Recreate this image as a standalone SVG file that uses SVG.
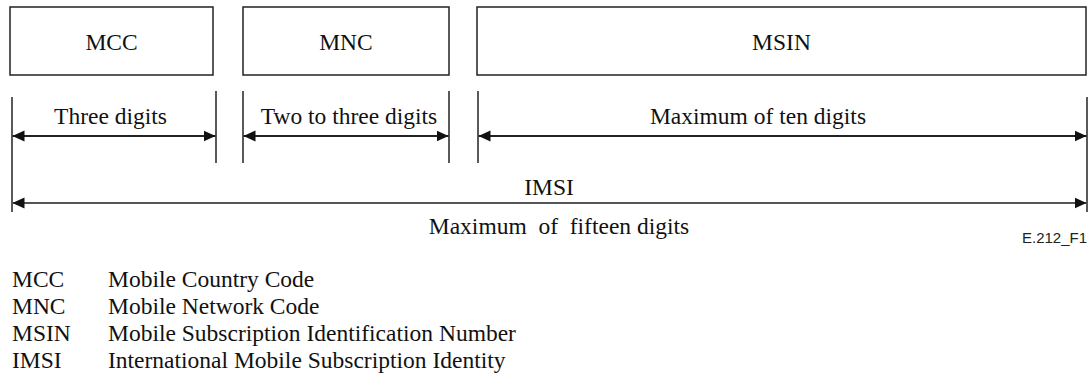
<svg xmlns="http://www.w3.org/2000/svg" width="1092" height="374" viewBox="0 0 1092 374">
<style>
.box{fill:#fff;stroke:#222;stroke-width:1.5}
.t{font-family:"Liberation Serif","Times New Roman",serif;font-size:23.5px;fill:#111}
.c{text-anchor:middle}
.v{stroke:#222;stroke-width:1.5}
.a{stroke:#222;stroke-width:1.8;fill:none;marker-start:url(#ah);marker-end:url(#ah)}
.a2{stroke:#555;stroke-width:2;fill:none;marker-start:url(#ah);marker-end:url(#ah)}
.f{font-family:"Liberation Sans",Arial,sans-serif;font-size:15px;fill:#222;text-anchor:end}
</style>
<defs>
<marker id="ah" viewBox="0 0 12 12" refX="12" refY="6" markerWidth="12" markerHeight="12" markerUnits="userSpaceOnUse" orient="auto-start-reverse">
<path d="M0,0.5 L12,6 L0,11.5 Z" fill="#111"/>
</marker>
</defs>
<g id="mcc"><rect class="box" x="10" y="7" width="203" height="68"/><text class="t c" x="111.5" y="50">MCC</text></g>
<g id="mnc"><rect class="box" x="243" y="7" width="206" height="68"/><text class="t c" x="346" y="50">MNC</text></g>
<g id="msin"><rect class="box" x="477" y="7" width="609" height="68"/><text class="t c" x="781.5" y="50">MSIN</text></g>
<g id="connectors">
<line class="v" x1="12" y1="97" x2="12" y2="212"/>
<line class="v" x1="216" y1="91" x2="216" y2="163"/>
<line class="v" x1="243" y1="91" x2="243" y2="163"/>
<line class="v" x1="449" y1="91" x2="449" y2="163"/>
<line class="v" x1="478" y1="91" x2="478" y2="163"/>
<line class="v" x1="1087" y1="97" x2="1087" y2="212"/>
<line class="a" x1="12.5" y1="136" x2="215.5" y2="136"/>
<line class="a" x1="243.5" y1="136" x2="448.5" y2="136"/>
<line class="a" x1="478.5" y1="136" x2="1086.5" y2="136"/>
<line class="a2" x1="12.5" y1="203" x2="1086.5" y2="203"/>
</g>
<g id="labels">
<text class="t c" x="110.5" y="124">Three digits</text>
<text class="t c" x="349" y="124">Two to three digits</text>
<text class="t c" x="758" y="124">Maximum of ten digits</text>
<text class="t c" x="549" y="195">IMSI</text>
<text class="t c" x="559" y="234" xml:space="preserve">Maximum  of  fifteen digits</text>
<text class="f" x="1087" y="243">E.212_F1</text>
</g>
<g id="legend">
<text class="t" x="12" y="287">MCC</text><text class="t" x="108" y="287">Mobile Country Code</text>
<text class="t" x="12" y="314">MNC</text><text class="t" x="108" y="314">Mobile Network Code</text>
<text class="t" x="12" y="341">MSIN</text><text class="t" x="108" y="341">Mobile Subscription Identification Number</text>
<text class="t" x="12" y="368">IMSI</text><text class="t" x="108" y="368">International Mobile Subscription Identity</text>
</g>
</svg>
